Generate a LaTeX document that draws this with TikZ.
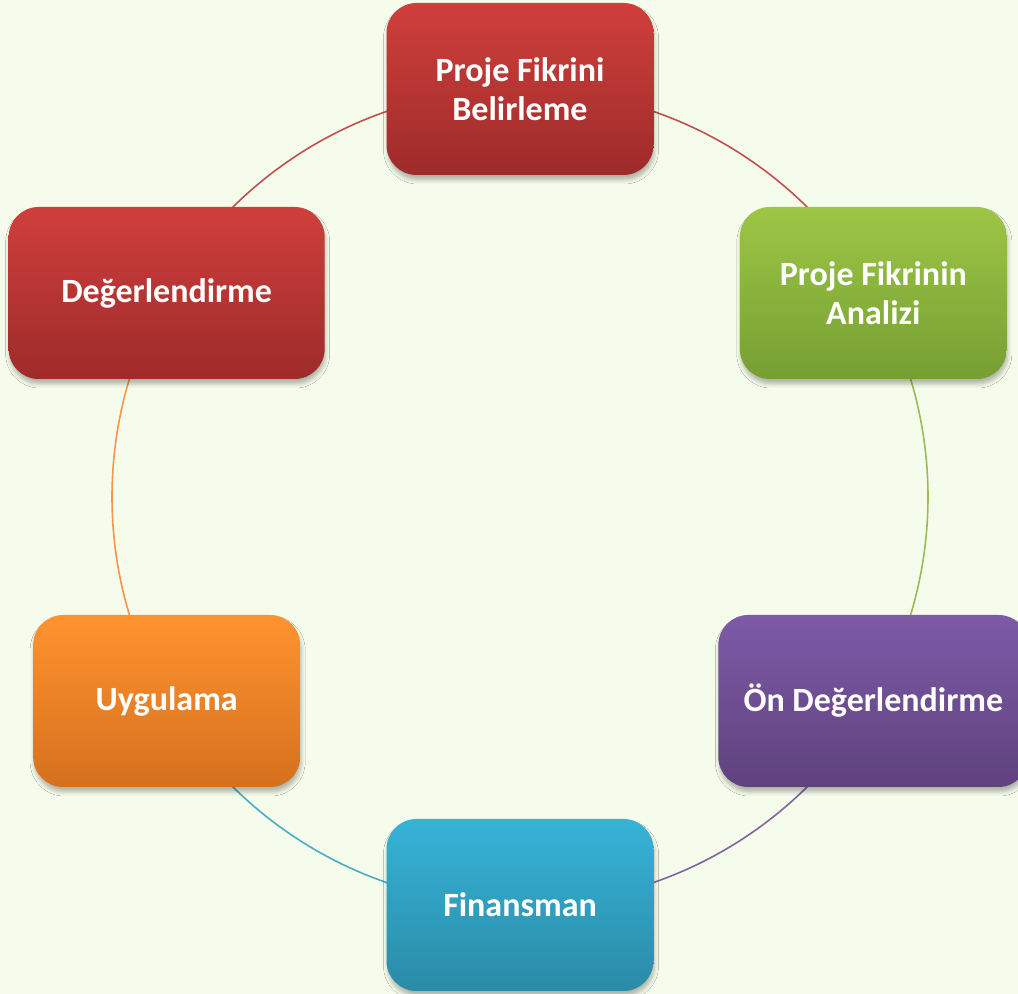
\documentclass[tikz,border=0pt]{standalone}
\usepackage{fontspec}
\setmainfont{Carlito}
\usetikzlibrary{backgrounds,shadows.blur}
\definecolor{bg}{HTML}{F5FCEB}
\definecolor{redT}{HTML}{CF3F3C}
\definecolor{redB}{HTML}{9E2B2A}
\definecolor{grnT}{HTML}{9DC646}
\definecolor{grnB}{HTML}{769F33}
\definecolor{purT}{HTML}{7E5AA6}
\definecolor{purB}{HTML}{5E427E}
\definecolor{bluT}{HTML}{36B3D7}
\definecolor{bluB}{HTML}{2A8BA7}
\definecolor{ornT}{HTML}{FF932F}
\definecolor{ornB}{HTML}{D5701E}
\definecolor{redL}{HTML}{C0504D}
\definecolor{grnL}{HTML}{9BBB59}
\definecolor{purL}{HTML}{8064A2}
\definecolor{bluL}{HTML}{4BACC6}
\definecolor{ornL}{HTML}{F79646}
\tikzset{
  stage/.style={rounded corners=15pt, minimum height=86pt, minimum width=133.5pt,
    align=center, text=white, inner sep=0pt,
    font=\bfseries\fontsize{17}{19.5}\selectfont,
    blur shadow={shadow xshift=0.5pt, shadow yshift=-2.5pt, shadow blur radius=2pt, shadow opacity=28}},
  link/.style={line width=0.8pt}
}
\begin{document}
\begin{tikzpicture}[x=0.5pt,y=0.5pt]
\path[use as bounding box] (0,0) rectangle (1018,994);
\clip (0,0) rectangle (1018,994);
\coordinate (c) at (520,497);
\node[stage, top color=redT, bottom color=redB] (n1) at ([shift={(90:408)}]c) {Proje Fikrini\\Belirleme};
\node[stage, top color=grnT, bottom color=grnB] (n2) at ([shift={(30:408)}]c) {Proje Fikrinin\\Analizi};
\node[stage, top color=purT, bottom color=purB, minimum width=155pt] (n3) at ([shift={(-30:408)}]c) {Ön Değerlendirme};
\node[stage, top color=bluT, bottom color=bluB] (n4) at ([shift={(-90:408)}]c) {Finansman};
\node[stage, top color=ornT, bottom color=ornB] (n5) at ([shift={(-150:408)}]c) {Uygulama};
\node[stage, top color=redT, bottom color=redB, minimum width=158pt] (n6) at ([shift={(150:408)}]c) {Değerlendirme};
\begin{scope}[on background layer]
  \fill[bg] (0,0) rectangle (1018,994);
  \draw[link, redL] (n1.center) arc[start angle=90, end angle=30, radius=408];
  \draw[link, grnL] (n2.center) arc[start angle=30, end angle=-30, radius=408];
  \draw[link, purL] (n3.center) arc[start angle=-30, end angle=-90, radius=408];
  \draw[link, bluL] (n4.center) arc[start angle=-90, end angle=-150, radius=408];
  \draw[link, ornL] (n5.center) arc[start angle=-150, end angle=-210, radius=408];
  \draw[link, redL] (n6.center) arc[start angle=150, end angle=90, radius=408];
\end{scope}
\end{tikzpicture}
\end{document}
